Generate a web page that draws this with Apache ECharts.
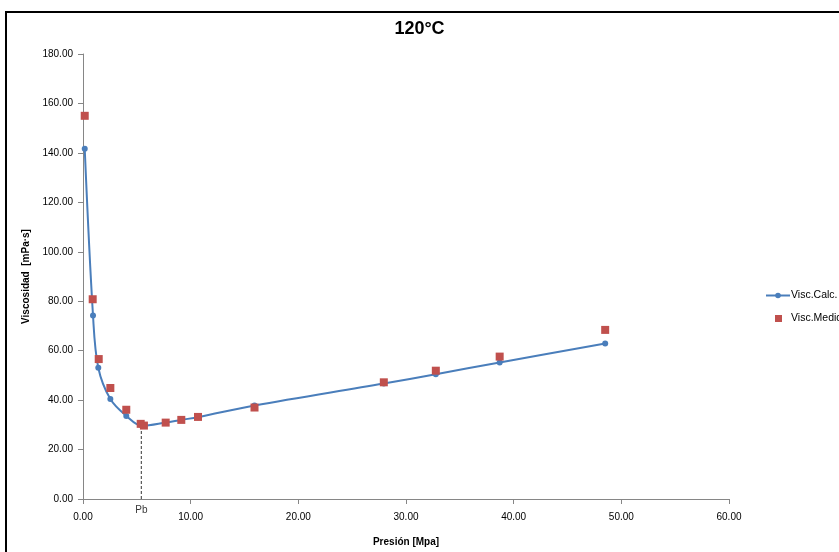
<!DOCTYPE html>
<html><head><meta charset="utf-8">
<script src="https://cdn.jsdelivr.net/npm/echarts@6/dist/echarts.min.js"></script>
<style>html,body{margin:0;padding:0;background:#fff}#c{width:839px;height:552px}</style>
</head><body><div id="c"></div>
<script>
var calcX = [0.16, 0.93, 1.42, 2.54, 4.02, 5.48, 7.68, 9.13, 10.68, 15.93, 27.94, 32.77, 38.70, 48.50];
var calcY = [141.7, 74.2, 53.1, 40.4, 33.6, 29.6, 30.9, 32.0, 33.1, 37.8, 46.7, 50.5, 55.2, 62.9];
var medX = [0.16, 0.90, 1.46, 2.54, 4.02, 5.36, 5.66, 7.68, 9.13, 10.68, 15.93, 27.94, 32.77, 38.70, 48.50];
var medY = [155.0, 80.8, 56.6, 44.9, 36.1, 30.4, 29.7, 30.9, 32.0, 33.2, 37.0, 47.2, 51.9, 57.6, 68.4];
var pbX = 5.42, pbY = 29.6;
var xTicks = [0, 10, 20, 30, 40, 50, 60];
var yTicks = [0, 20, 40, 60, 80, 100, 120, 140, 160, 180];

function zip(a, b) { return a.map(function (v, i) { return [v, b[i]]; }); }
var font = 'Liberation Sans';
var chart = echarts.init(document.getElementById('c'));
chart.setOption({
  animation: false,
  textStyle: { fontFamily: font },
  title: { text: '120°C', left: 'center', top: 15, textStyle: { fontSize: 18, fontWeight: 'bold', color: '#000', fontFamily: font } },
  grid: { left: 83, right: 110, top: 54, bottom: 52 },
  legend: {
    orient: 'vertical', left: 760, top: 285, itemWidth: 24, itemHeight: 7, itemGap: 12,
    textStyle: { fontSize: 10.5, color: '#000', padding: [0, 0, 0, -4] },
    data: [
      { name: 'Visc.Calc.' },
      { name: 'Visc.Medida', icon: 'path://M0,0h0.01v0.01h-0.01zM9,0h7v7h-7zM24,7h-0.01v-0.01h0.01z' }
    ]
  },
  xAxis: {
    type: 'value', min: xTicks[0], max: xTicks[xTicks.length - 1], interval: 10,
    name: 'Presión [Mpa]', nameLocation: 'middle', nameGap: 38,
    nameTextStyle: { fontSize: 10, fontWeight: 'bold', color: '#000' },
    axisLine: { lineStyle: { color: '#868686' } },
    axisTick: { lineStyle: { color: '#868686' }, length: 5 },
    axisLabel: { fontSize: 10, color: '#000', margin: 13, formatter: function (v) { return v.toFixed(2); } },
    splitLine: { show: false }
  },
  yAxis: {
    type: 'value', min: yTicks[0], max: yTicks[yTicks.length - 1], interval: 20,
    name: 'Viscosidad  [mPa·s]', nameLocation: 'middle', nameGap: 51,
    nameTextStyle: { fontSize: 10, fontWeight: 'bold', color: '#000' },
    axisLine: { show: true, lineStyle: { color: '#868686' } },
    axisTick: { show: true, lineStyle: { color: '#868686' }, length: 5 },
    axisLabel: { fontSize: 10, color: '#000', margin: 10, formatter: function (v) { return v.toFixed(2); } },
    splitLine: { show: false }
  },
  graphic: [{
    type: 'rect', shape: { x: 6, y: 12, width: 900, height: 600 },
    style: { fill: 'none', stroke: '#000', lineWidth: 2 }, silent: true, z: 100
  }],
  series: [
    {
      name: 'Pb', type: 'line', data: [[pbX, 0], [pbX, pbY]], symbol: 'none',
      lineStyle: { color: '#555', width: 1.2, type: [3, 2] }, z: 1,
      label: { show: false }
    },
    {
      name: 'PbLabel', type: 'scatter', data: [[pbX, 0]], symbolSize: 0,
      label: { show: true, formatter: 'Pb', position: 'bottom', distance: 6, fontSize: 10, color: '#000' }
    },
    {
      name: 'Visc.Calc.', type: 'line', data: zip(calcX, calcY), smooth: 0.35,
      symbol: 'circle', symbolSize: 6,
      lineStyle: { color: '#4A7EBB', width: 2 },
      itemStyle: { color: '#4A7EBB' }, z: 3
    },
    {
      name: 'Visc.Medida', type: 'scatter', data: zip(medX, medY),
      symbol: 'rect', symbolSize: 8,
      itemStyle: { color: '#C0504D', opacity: 1 }, z: 4
    }
  ]
});
</script></body></html>
